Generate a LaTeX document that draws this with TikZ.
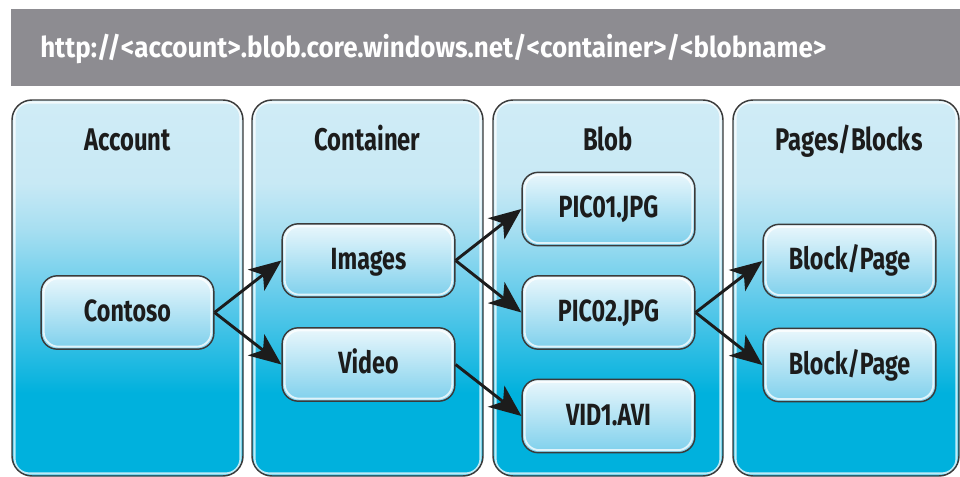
\documentclass[tikz,border=0pt]{standalone}
\usepackage{fontspec}
\usepackage{graphicx}
\setmainfont{Fira Sans}
\newfontfamily\lblfont{Fira Sans}[FakeStretch=0.76]
\usetikzlibrary{arrows.meta}

\definecolor{hdrgray}{HTML}{8D8C91}
\definecolor{colTop}{HTML}{D0ECF6}
\definecolor{colUp}{HTML}{C8E9F5}
\definecolor{colMid}{HTML}{A8DFF1}
\definecolor{colLow}{HTML}{5CC9EA}
\definecolor{colBot}{HTML}{00B1DD}
\definecolor{boxTop}{HTML}{EAF7FC}
\definecolor{boxBot}{HTML}{7ED0EC}
\definecolor{edge}{HTML}{3A3A3A}
\definecolor{ink}{HTML}{1C1C1C}

% vertical fill of the four columns (bounding box maps to 25bp..75bp)
\pgfdeclareverticalshading{colshade}{100bp}{%
  color(0bp)=(colBot); color(25bp)=(colBot); color(36bp)=(colBot);
  color(48bp)=(colLow); color(58bp)=(colMid); color(64bp)=(colUp);
  color(75bp)=(colTop); color(100bp)=(colTop)}

\tikzset{
  inglow/.style={path picture={
    \draw[white,opacity=.75,line width=#1,rounded corners=11pt]
      ([shift={(1.9pt,-1.9pt)}]path picture bounding box.north west) rectangle
      ([shift={(-1.9pt,1.9pt)}]path picture bounding box.south east);}},
  column/.style={rounded corners=15pt, shading=colshade, draw=edge,
    line width=1.1pt, minimum height=282pt, inner sep=0pt, inglow=1.6pt},
  item/.style={rounded corners=12pt, draw=edge, line width=1.1pt,
    top color=boxTop, bottom color=boxBot, inglow=1.4pt,
    minimum width=129.5pt, minimum height=55pt, inner sep=0pt,
    font=\lblfont\fontsize{23}{27}\selectfont\bfseries, text=ink,
    text height=16pt, text depth=2.5pt},
  title/.style={font=\lblfont\fontsize{23.5}{27}\selectfont\bfseries, text=ink,
    inner sep=0pt, text height=16.5pt, text depth=2.5pt},
  conn/.style={draw=ink, line width=2.2pt,
    -{Stealth[length=24pt, width=20pt, inset=6.5pt]}},
}

\begin{document}
\begin{tikzpicture}[x=0.75pt, y=-0.75pt]
  \useasboundingbox (0,0) rectangle (960,477);

  % address bar
  \node[fill=hdrgray, minimum width=711.75pt, minimum height=57.75pt,
        inner sep=0pt] (hdr) at (485.5,47.5) {};
  \node[anchor=base west, inner sep=0pt, text=white,
        font=\fontsize{21.5}{25}\selectfont\bfseries] (url) at (40,57.5)
    {\resizebox{589.5pt}{\height}{http://<account>.blob.core.windows.net/<container>/<blobname>}};

  % columns
  \node[column, minimum width=173.25pt] (colA) at (127.5,288) {};
  \node[column, minimum width=173.25pt] (colC) at (367.5,288) {};
  \node[column, minimum width=172.5pt]  (colB) at (608,288) {};
  \node[column, minimum width=169.5pt]  (colP) at (846,288) {};

  % column titles
  \node[title] (tA) at (127.5,141) {Account};
  \node[title] (tC) at (367.5,141) {Container};
  \node[title] (tB) at (608,141) {Blob};
  \node[title] (tP) at (849,141) {Pages/Blocks};

  % entries
  \node[item] (contoso) at (127.5,312.5) {Contoso};
  \node[item] (images)  at (368.5,260.5) {Images};
  \node[item] (video)   at (368.5,364.5) {Video};
  \node[item] (pic1)    at (608.5,209)   {PIC01.JPG};
  \node[item] (pic2)    at (608.5,312.5) {PIC02.JPG};
  \node[item] (vid1)    at (608.5,416)   {VID1.AVI};
  \node[item] (blk1)    at (849.5,261)   {Block/Page};
  \node[item] (blk2)    at (849.5,365)   {Block/Page};

  % connectors
  \draw[conn] (contoso.east) -- (images.west);
  \draw[conn] (contoso.east) -- (video.west);
  \draw[conn] (images.east) -- (pic1.west);
  \draw[conn] (images.east) -- (pic2.west);
  \draw[conn] (video.east) -- (vid1.west);
  \draw[conn] (pic2.east) -- (blk1.west);
  \draw[conn] (pic2.east) -- (blk2.west);
\end{tikzpicture}
\end{document}
